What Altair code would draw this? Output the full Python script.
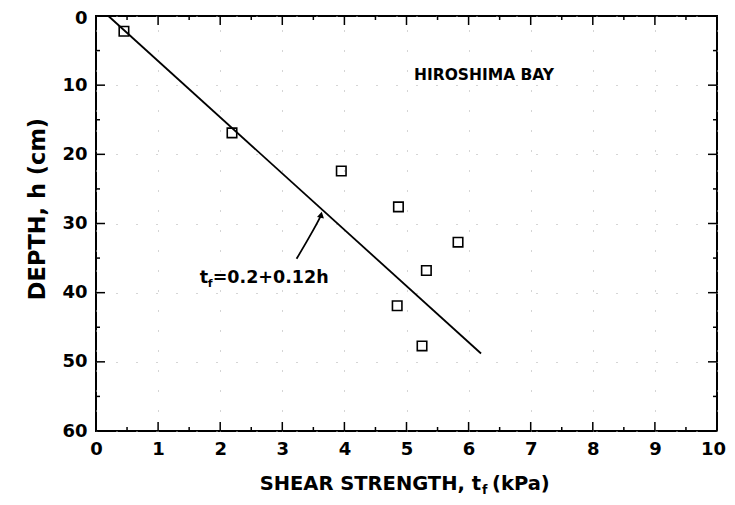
import altair as alt
import pandas as pd

# ---- data ----
shear = [0.45, 2.19, 3.95, 4.87, 5.83, 5.32, 4.85, 5.25]
depth = [2.2, 16.9, 22.4, 27.6, 32.7, 36.8, 41.9, 47.7]

fit_t = [0.2, 6.2]
fit_h = [0.0, 48.8]

arrow_t = [3.23, 3.44, 3.57, 3.625]
arrow_h = [35.1, 31.9, 29.8, 28.8]
arrow_tip_t = [3.625]
arrow_tip_h = [28.75]

x_major = [0, 1, 2, 3, 4, 5, 6, 7, 8, 9, 10]
x_minor = [0.5, 1.5, 2.5, 3.5, 4.5, 5.5, 6.5, 7.5, 8.5, 9.5]
y_major = [0, 10, 20, 30, 40, 50, 60]
y_minor = [5, 15, 25, 35, 45, 55]

W, H = 621, 415
FONT = "DejaVu Sans"

xs = alt.Scale(domain=[0, 10], nice=False, zero=False)
ys = alt.Scale(domain=[0, 60], reverse=True, nice=False, zero=False)

ax_x = alt.Axis(values=x_major, title=None, domain=False, ticks=False,
                labelPadding=9, labelFont=FONT, labelFontWeight="bold",
                labelFontSize=18, labelColor="black", labelOverlap=False,
                labelFlush=False, format="d",
                labelOffset={"condition": {"test": "datum.value == 10", "value": -4}, "value": 0},
                grid=True, gridDash=[1, 19], gridColor="#aaa", gridWidth=1)
ax_y = alt.Axis(values=y_major, title="DEPTH, h (cm)", domain=False, ticks=False,
                labelPadding=9, labelFont=FONT, labelFontWeight="bold",
                labelFontSize=18, labelColor="black", labelOverlap=False,
                labelFlush=False, format="d",
                labelOffset={"condition": {"test": "datum.value == 0", "value": 2}, "value": 0},
                titleFont=FONT, titleFontWeight="bold", titleFontSize=22.5,
                titleColor="black", titleX=-52, titleY=192.5,
                titleBaseline="alphabetic", titleAngle=270,
                grid=True, gridDash=[1, 19], gridColor="#aaa", gridWidth=1)


def X(f="x"):
    return alt.X(f"{f}:Q", scale=xs, axis=ax_x)


def Y(f="y"):
    return alt.Y(f"{f}:Q", scale=ys, axis=ax_y)


pts = pd.DataFrame({"x": shear, "y": depth})
fit = pd.DataFrame({"x": fit_t, "y": fit_h})
arr = pd.DataFrame({"x": arrow_t, "y": arrow_h})
tip = pd.DataFrame({"x": arrow_tip_t, "y": arrow_tip_h})
xmaj = pd.DataFrame({"x": x_major})
xmin = pd.DataFrame({"x": x_minor})
ymaj = pd.DataFrame({"y": y_major})
ymin = pd.DataFrame({"y": y_minor})

layers = []

# fit line
layers.append(alt.Chart(fit).mark_line(color="black", strokeWidth=1.8).encode(x=X(), y=Y()))

# points
layers.append(alt.Chart(pts).mark_point(shape="square", filled=False, color="black",
                                        strokeWidth=1.6, size=90, opacity=1).encode(x=X(), y=Y()))

# arrow
layers.append(alt.Chart(arr).mark_line(color="black", strokeWidth=1.8,
                                       interpolate="basis").encode(x=X(), y=Y()))
layers.append(alt.Chart(tip).mark_point(shape="triangle-up", filled=True, color="black",
                                        size=50, angle=12, opacity=1).encode(x=X(), y=Y()))

# ticks (inward) on all four sides
tk = dict(color="black", strokeWidth=1.5)
layers.append(alt.Chart(xmaj).mark_rule(**tk).encode(x=X(), y=alt.value(H), y2=alt.value(H - 9)))
layers.append(alt.Chart(xmin).mark_rule(**tk).encode(x=X(), y=alt.value(H), y2=alt.value(H - 4)))
layers.append(alt.Chart(xmaj).mark_rule(**tk).encode(x=X(), y=alt.value(0), y2=alt.value(9)))
layers.append(alt.Chart(xmin).mark_rule(**tk).encode(x=X(), y=alt.value(0), y2=alt.value(4)))
layers.append(alt.Chart(ymaj).mark_rule(**tk).encode(y=Y(), x=alt.value(0), x2=alt.value(9)))
layers.append(alt.Chart(ymin).mark_rule(**tk).encode(y=Y(), x=alt.value(0), x2=alt.value(4)))
layers.append(alt.Chart(ymaj).mark_rule(**tk).encode(y=Y(), x=alt.value(W), x2=alt.value(W - 9)))
layers.append(alt.Chart(ymin).mark_rule(**tk).encode(y=Y(), x=alt.value(W), x2=alt.value(W - 4)))

# texts
txt = dict(font=FONT, fontWeight="bold", color="black", baseline="alphabetic")

bay = pd.DataFrame({"x": [5.12], "y": [9.25], "t": ["HIROSHIMA BAY"]})
layers.append(alt.Chart(bay).mark_text(align="left", fontSize=15.5, **txt)
              .encode(x=X(), y=Y(), text="t:N"))

eq = pd.DataFrame({"x": [1.67], "y": [38.6]})
layers.append(alt.Chart(eq).mark_text(align="left", fontSize=17.5, text="t", **txt)
              .encode(x=X(), y=Y()))
layers.append(alt.Chart(eq).mark_text(align="left", fontSize=11, text="f", dx=8, dy=4, **txt)
              .encode(x=X(), y=Y()))
layers.append(alt.Chart(eq).mark_text(align="left", fontSize=17.5, text="=0.2+0.12h", dx=13, **txt)
              .encode(x=X(), y=Y()))

xt = pd.DataFrame({"x": [6.2]})
layers.append(alt.Chart(xt).mark_text(align="right", fontSize=19.5, text="SHEAR STRENGTH, t", **txt)
              .encode(x=X(), y=alt.value(474)))
layers.append(alt.Chart(xt).mark_text(align="left", fontSize=12.5, text="f", dx=1, **txt)
              .encode(x=X(), y=alt.value(477.5)))
layers.append(alt.Chart(xt).mark_text(align="left", fontSize=19.5, text="(kPa)", dx=11, **txt)
              .encode(x=X(), y=alt.value(474)))

chart = alt.layer(*layers).properties(
    width=W, height=H,
    autosize=alt.AutoSizeParams(type="none"),
    padding={"left": 88, "top": 8, "right": 10, "bottom": 66},
    background="white",
).configure_view(stroke="black", strokeWidth=2)

chart.save("out.html", embed_options={"renderer": "svg", "actions": False})
